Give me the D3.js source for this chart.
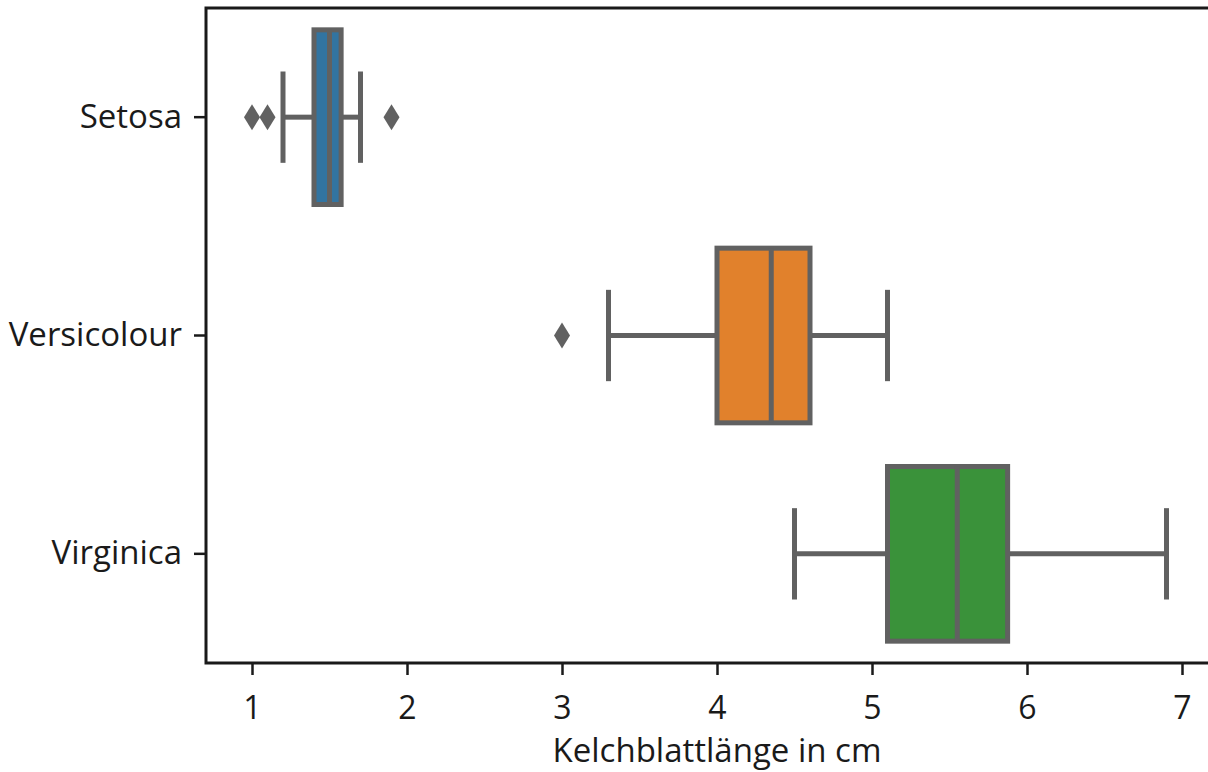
<!DOCTYPE html>
<html><head><meta charset="utf-8">
<script src="https://cdn.jsdelivr.net/npm/d3@7"></script>
<style>body{margin:0;background:#fff}svg{display:block}</style>
</head><body>
<script>
const categories = ["Setosa", "Versicolour", "Virginica"];
const q1 = [1.4, 4.0, 5.1];
const medians = [1.5, 4.35, 5.55];
const q3 = [1.575, 4.6, 5.875];
const whiskerLow = [1.2, 3.3, 4.5];
const whiskerHigh = [1.7, 5.1, 6.9];
const outliers = [[1.0, 1.1, 1.9], [3.0], []];
const colors = ["#3274a1", "#e1812c", "#3a923a"];
const xTicks = [1, 2, 3, 4, 5, 6, 7];
const xTitle = "Kelchblattlänge in cm";

(function () {
const W = 1208, H = 772;
const mLeft = 206, mTop = 8, mBottom = 663, mRight = 1216;
const svg = d3.select("body").append("svg").attr("width", W).attr("height", H);
const x = d3.scaleLinear().domain([1, 7]).range([252, 1182]);
const y = d3.scaleBand().domain(categories).range([mTop, mBottom]);
const font = "'Open Sans', sans-serif";
const gray = "#616161";

const g = svg.append("g");
categories.forEach((c, i) => {
  const bw = y.bandwidth() * 0.8;
  const cy = y(c) + y.bandwidth() / 2;
  const grp = g.append("g");
  grp.append("line").attr("x1", x(whiskerLow[i])).attr("x2", x(q1[i])).attr("y1", cy).attr("y2", cy)
    .attr("stroke", gray).attr("stroke-width", 5);
  grp.append("line").attr("x1", x(q3[i])).attr("x2", x(whiskerHigh[i])).attr("y1", cy).attr("y2", cy)
    .attr("stroke", gray).attr("stroke-width", 5);
  [whiskerLow[i], whiskerHigh[i]].forEach(v => {
    grp.append("line").attr("x1", x(v)).attr("x2", x(v)).attr("y1", cy - bw / 4 - 2).attr("y2", cy + bw / 4 + 2)
      .attr("stroke", gray).attr("stroke-width", 5);
  });
  grp.append("rect").attr("x", x(q1[i])).attr("width", x(q3[i]) - x(q1[i]))
    .attr("y", cy - bw / 2).attr("height", bw)
    .attr("fill", colors[i]).attr("stroke", gray).attr("stroke-width", 5);
  grp.append("line").attr("x1", x(medians[i])).attr("x2", x(medians[i]))
    .attr("y1", cy - bw / 2).attr("y2", cy + bw / 2).attr("stroke", gray).attr("stroke-width", 5);
  outliers[i].forEach(v => {
    const px = x(v);
    grp.append("path").attr("d", `M${px},${cy - 13} L${px + 8},${cy} L${px},${cy + 13} L${px - 8},${cy} Z`)
      .attr("fill", gray);
  });
});

svg.append("path").attr("d", `M${mRight},${mTop} L${mLeft},${mTop} L${mLeft},${mBottom} L${mRight},${mBottom}`)
  .attr("fill", "none").attr("stroke", "#1a1a1a").attr("stroke-width", 3);

const xa = svg.append("g").attr("transform", `translate(0,${mBottom})`)
  .call(d3.axisBottom(x).tickValues(xTicks).tickSize(12).tickPadding(21).tickFormat(d3.format("d")));
xa.select(".domain").remove();
xa.selectAll(".tick line").attr("stroke", "#1a1a1a").attr("stroke-width", 2.5);
xa.selectAll(".tick text").attr("font-family", font).attr("font-size", 32).attr("fill", "#1a1a1a");

const ya = svg.append("g").attr("transform", `translate(${mLeft},0)`)
  .call(d3.axisLeft(y).tickSize(12).tickPadding(12));
ya.select(".domain").remove();
ya.selectAll(".tick line").attr("stroke", "#1a1a1a").attr("stroke-width", 2.5);
ya.selectAll(".tick text").attr("font-family", font).attr("font-size", 33).attr("fill", "#1a1a1a");

svg.append("text").attr("x", 717).attr("y", 762).attr("text-anchor", "middle")
  .attr("font-family", font).attr("font-size", 33).attr("fill", "#1a1a1a").text(xTitle);
})();
</script>
</body></html>
